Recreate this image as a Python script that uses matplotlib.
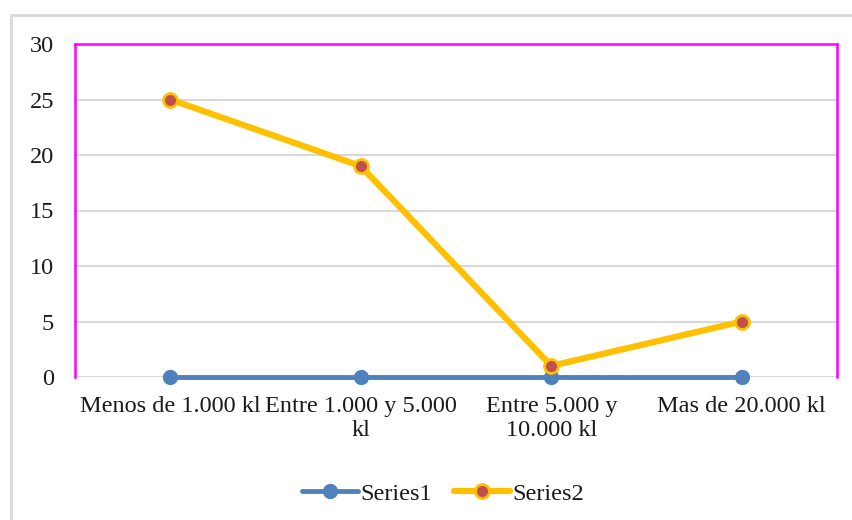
import matplotlib
matplotlib.use("Agg")
import matplotlib.pyplot as plt
from matplotlib.patches import Rectangle

categories = ["Menos de 1.000 kl", "Entre 1.000 y 5.000\nkl", "Entre 5.000 y\n10.000 kl", "Mas de 20.000 kl"]
series1 = [0, 0, 0, 0]
series2 = [25, 19, 1, 5]
yticks = [0, 5, 10, 15, 20, 25, 30]

plt.rcParams['font.family'] = ['Liberation Serif', 'DejaVu Serif']
FS = 17.5

W, H = 852, 520
fig = plt.figure(figsize=(W/100, H/100), dpi=100)
fig.patch.set_facecolor("white")

# outer chart frame
fig.patches.append(Rectangle((11/W, -0.1), 1.2, (H-15)/H + 0.1, transform=fig.transFigure,
                             fill=False, edgecolor="#d9d9d9", linewidth=2, zorder=0))

ax = fig.add_axes([75/W, 1-377/H, (837-75)/W, (377-44)/H])
x = list(range(len(categories)))

for y in yticks:
    ax.axhline(y, color="#d9d9d9", linewidth=1.5, zorder=1)

ax.plot(x, series1, color="#4F81BD", linewidth=3.5, marker="o", markersize=10,
        markerfacecolor="#4F81BD", markeredgecolor="#4F81BD", label="Series1", zorder=3,
        solid_capstyle="round", clip_on=False)
ax.plot(x, series2, color="#FFC000", linewidth=4.5, marker="o", markersize=10,
        markerfacecolor="#C0504D", markeredgecolor="#FFC000", markeredgewidth=2,
        label="Series2", zorder=4, solid_capstyle="round", clip_on=False)

ax.set_xlim(-0.5, 3.5)
ax.set_ylim(0, 30)
ax.set_yticks(yticks)
ax.set_xticks(x)
ax.set_xticklabels(categories, fontsize=FS, color="#1a1a1a", linespacing=1.15)
ax.tick_params(axis="y", labelsize=FS, colors="#1a1a1a", length=0, pad=15)
ax.tick_params(axis="x", length=0, pad=14)

for s in ["left", "top", "right"]:
    ax.spines[s].set_color("#FF00FF")
    ax.spines[s].set_linewidth(1.8)
ax.spines["bottom"].set_visible(False)

leg = fig.legend(loc="center", bbox_to_anchor=(443/W, 1-494/H), ncol=2, frameon=False,
                 fontsize=FS, handlelength=2.3, handletextpad=0.1, columnspacing=0.9)
for t in leg.get_texts():
    t.set_color("#1a1a1a")

fig.savefig("out.png", dpi=100)
